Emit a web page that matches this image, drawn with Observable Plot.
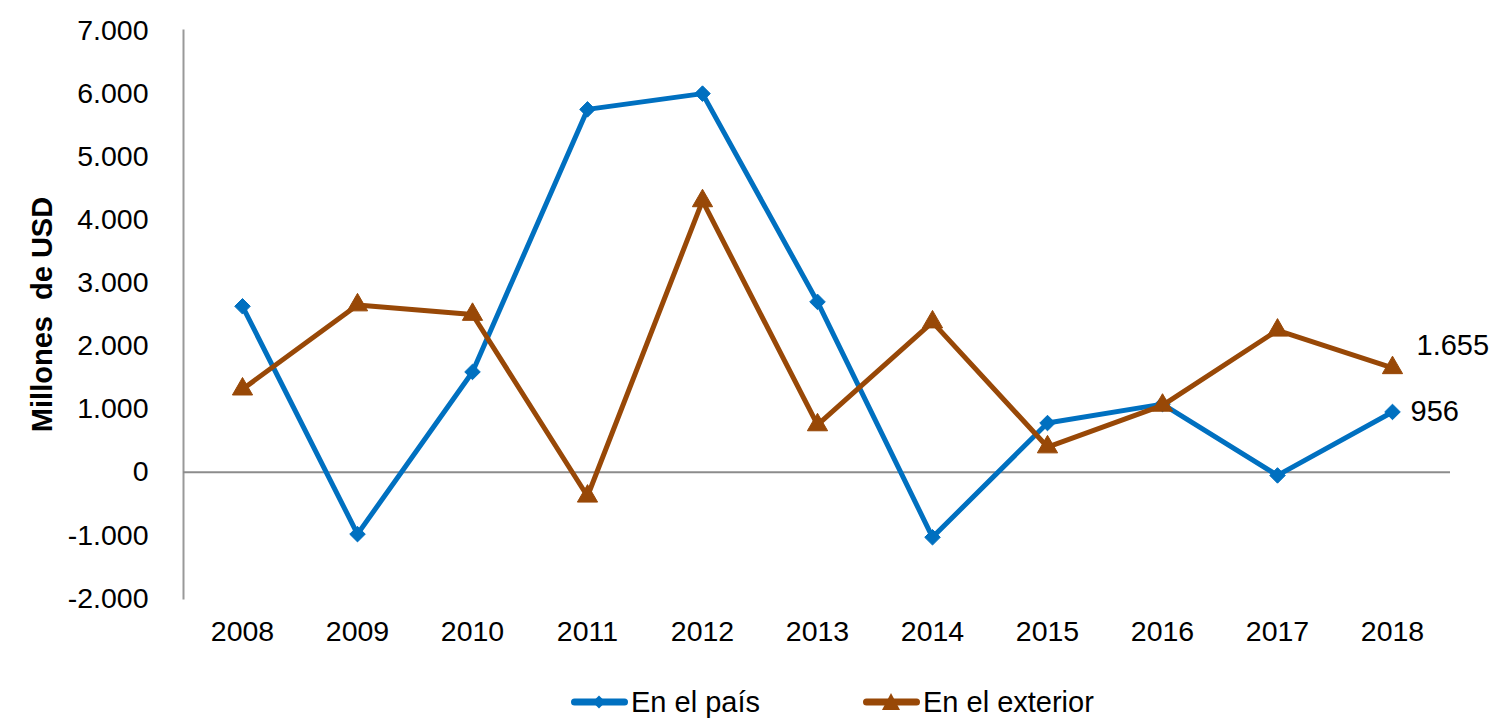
<!DOCTYPE html>
<html>
<head>
<meta charset="utf-8">
<script src="https://cdn.jsdelivr.net/npm/d3@7"></script>
<script src="https://cdn.jsdelivr.net/npm/@observablehq/plot@0.6"></script>
<style>
  body { margin: 0; background: #fff; font-family: "Liberation Sans", Arial, sans-serif; }
  #chart svg { font-family: "Liberation Sans", Arial, sans-serif; }
  g[aria-label="y-axis label"] text { font-weight: bold; font-size: 29px; }
  .legend { display: flex; margin-left: 571px; margin-top: 22px; font-size: 29px; color: #000; align-items: center; height: 40px; }
  .item { display: flex; align-items: center; }
  .item span { margin-left: 3px; }
</style>
</head>
<body>
<div id="chart"></div>
<div class="legend" id="legend"></div>
<script>
const years = ["2008","2009","2010","2011","2012","2013","2014","2015","2016","2017","2018"];
const enElPais = [2630, -980, 1590, 5750, 6000, 2700, -1030, 780, 1080, -50, 956];
const enElExterior = [1317, 2650, 2500, -380, 4300, 750, 2380, 400, 1060, 2250, 1655];
const yTicks = [-2000, -1000, 0, 1000, 2000, 3000, 4000, 5000, 6000, 7000];
const seriesNames = ["En el país", "En el exterior"];
const colors = ["#0070C0", "#984807"];

const loc = d3.formatLocale({decimal: ",", thousands: ".", grouping: [3], currency: ["", ""], minus: "-"});
const fmt = loc.format(",");

const pais = years.map((y, i) => ({year: y, value: enElPais[i]}));
const ext = years.map((y, i) => ({year: y, value: enElExterior[i]}));
const lastP = pais[pais.length - 1];
const lastE = ext[ext.length - 1];

const chart = Plot.plot({
  width: 1492,
  height: 660,
  marginLeft: 183,
  marginRight: 42,
  marginTop: 30,
  marginBottom: 62,
  style: {fontSize: "28.5px", color: "#000", background: "#fff"},
  x: {type: "point", domain: years, padding: 0.5, label: null, tickSize: 0, tickPadding: 22},
  y: {domain: [-2000, 7000], ticks: yTicks, tickFormat: fmt, tickSize: 0, tickPadding: 35,
      label: "Millones  de USD", labelAnchor: "center", labelArrow: "none", labelOffset: 152},
  marks: [
    Plot.frame({anchor: "left", stroke: "#999", strokeWidth: 2}),
    Plot.ruleY([0], {stroke: "#8c8c8c", strokeWidth: 2}),
    Plot.line(pais, {x: "year", y: "value", stroke: colors[0], strokeWidth: 5}),
    Plot.dot(pais, {x: "year", y: "value", symbol: "diamond2", r: 7, fill: colors[0], stroke: colors[0], strokeWidth: 1}),
    Plot.line(ext, {x: "year", y: "value", stroke: colors[1], strokeWidth: 5}),
    Plot.dot(ext, {x: "year", y: "value", symbol: "triangle", r: 7.5, fill: colors[1], stroke: colors[1], strokeWidth: 1}),
    Plot.text([lastE], {x: "year", y: "value", text: d => fmt(d.value), dx: 24, dy: -22, textAnchor: "start", fontSize: 29, fill: "#000"}),
    Plot.text([lastP], {x: "year", y: "value", text: d => fmt(d.value), dx: 18, dy: 0, textAnchor: "start", fontSize: 29, fill: "#000"})
  ]
});
document.getElementById("chart").appendChild(chart);

const legend = document.getElementById("legend");
const syms = [
  '<polygon points="28,-6.5 34.5,0 28,6.5 21.5,0" />',
  '<polygon points="28,-9 37,8 19,8" />'
];
seriesNames.forEach((name, i) => {
  const item = document.createElement("div");
  item.className = "item";
  if (i === 1) item.style.marginLeft = "103px";
  item.innerHTML = `<svg width="57" height="24" viewBox="0 -12 57 24"><line x1="3.5" x2="53.5" y1="0" y2="0" stroke="${colors[i]}" stroke-width="7" stroke-linecap="round"/><g fill="${colors[i]}">${syms[i]}</g></svg><span>${name}</span>`;
  legend.appendChild(item);
});
</script>
</body>
</html>
